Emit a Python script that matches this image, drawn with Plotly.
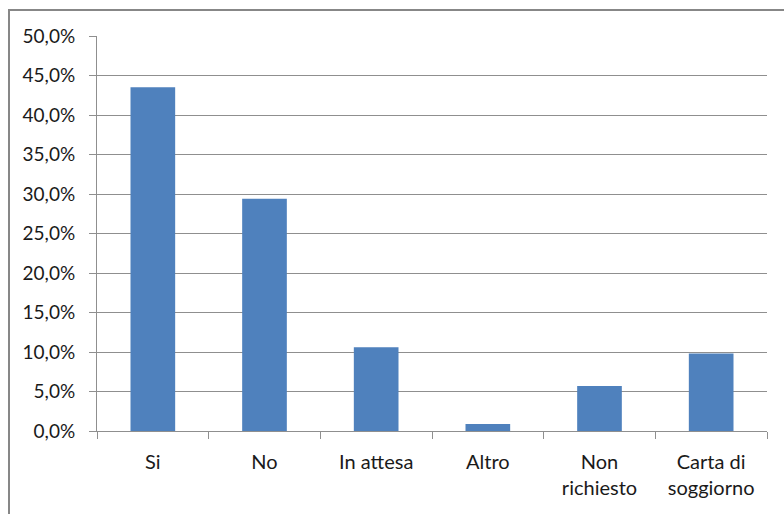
import plotly.graph_objects as go

# Risposte e relative percentuali
categorie = ["Si", "No", "In attesa", "Altro", "Non<br>richiesto", "Carta di<br>soggiorno"]
percentuali = [43.5, 29.4, 10.6, 0.9, 5.7, 9.8]

BAR_COLOR = "#4f81bd"
GRID_COLOR = "#8f8f8f"
TEXT_COLOR = "#1a1a1a"
FONT = "Lato"

fig = go.Figure(
    go.Bar(
        x=categorie,
        y=percentuali,
        marker=dict(color=BAR_COLOR, line=dict(width=0)),
        width=0.4,
    )
)

W, H = 784, 514
L, R, T, B = 97, 17, 36, 83
pw, ph = W - L - R, H - T - B

# outer chart border (pixels converted to paper coordinates)
def px_x(x):
    return (x - L) / pw

def px_y(y):
    return (H - B - y) / ph

fig.add_shape(
    type="rect", xref="paper", yref="paper",
    x0=px_x(9), x1=px_x(800), y0=px_y(530), y1=px_y(10),
    line=dict(color="#878787", width=2), fillcolor="rgba(0,0,0,0)",
    layer="below",
)

fig.update_layout(
    width=W, height=H,
    margin=dict(l=L, r=R, t=T, b=B),
    paper_bgcolor="white", plot_bgcolor="white",
    separators=",.",
    showlegend=False,
    font=dict(family=FONT, size=19, color=TEXT_COLOR),
    xaxis=dict(
        showgrid=False,
        showline=True, linecolor=GRID_COLOR, linewidth=1,
        ticks="outside", tickson="boundaries", ticklen=7, tickcolor=GRID_COLOR,
        ticklabelstandoff=13,
        tickfont=dict(size=20),
        range=[-0.5, 5.5],
    ),
    yaxis=dict(
        range=[0, 50], dtick=5,
        tickformat=".1f", ticksuffix="%",
        showgrid=True, gridcolor=GRID_COLOR, gridwidth=1,
        showline=True, linecolor=GRID_COLOR, linewidth=1,
        ticks="outside", ticklen=7, tickcolor=GRID_COLOR,
        ticklabelstandoff=10,
        zeroline=False,
    ),
)

fig.write_html("out.html")
